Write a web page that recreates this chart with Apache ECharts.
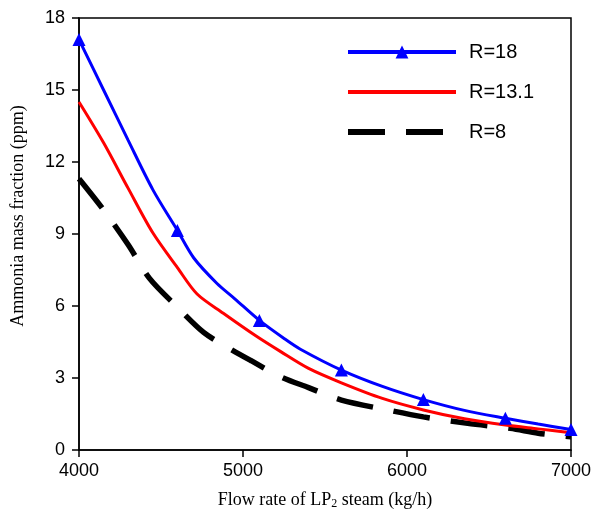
<!DOCTYPE html>
<html><head><meta charset="utf-8">
<script src="https://cdn.jsdelivr.net/npm/echarts@6/dist/echarts.min.js"></script>
<style>html,body{margin:0;padding:0;background:#fff}#c{width:595px;height:520px}</style>
</head><body><div id="c"></div>
<script>
const seriesNames = ['R=18', 'R=13.1', 'R=8'];
const xTicks = [4000, 5000, 6000, 7000];
const yTicks = [0, 3, 6, 9, 12, 15, 18];

const xBlue = [4000, 4150, 4300, 4450, 4600, 4700, 4840, 4950, 5100, 5250, 5350, 5600, 5850, 6100, 6350, 6600, 6800, 7000];
const yBlue = [17.1, 15.0, 12.9, 10.85, 9.15, 8.0, 6.95, 6.3, 5.4, 4.65, 4.2, 3.33, 2.65, 2.1, 1.65, 1.32, 1.08, 0.85];
const blueMarkerX = [4000, 4600, 5100, 5600, 6100, 6600, 7000];

const xRed = [4000, 4150, 4300, 4450, 4600, 4720, 4880, 5080, 5230, 5400, 5600, 5850, 6100, 6350, 6600, 6800, 7000];
const yRed = [14.5, 12.8, 10.9, 9.05, 7.6, 6.5, 5.7, 4.75, 4.1, 3.4, 2.8, 2.15, 1.67, 1.3, 1.04, 0.88, 0.72];

const xBlack = [4000, 4150, 4300, 4430, 4600, 4760, 4900, 5050, 5230, 5400, 5600, 5880, 6100, 6370, 6630, 6800, 7000];
const yBlack = [11.3, 10.0, 8.55, 7.15, 5.95, 4.9, 4.3, 3.72, 3.05, 2.6, 2.08, 1.67, 1.38, 1.11, 0.9, 0.7, 0.55];

const chart = echarts.init(document.getElementById('c'), null, {renderer: 'canvas'});
const sans = 'Liberation Sans, Arial, sans-serif';
const serif = 'Liberation Serif, Times New Roman, serif';

chart.setOption({
  animation: false,
  backgroundColor: '#fff',
  grid: {left: 79, right: 24, top: 18, bottom: 70, show: true, borderColor: '#000', borderWidth: 1.5, backgroundColor: 'transparent'},
  legend: {
    orient: 'vertical', left: 340, top: 37, itemWidth: 108, itemHeight: 16, itemGap: 20,
    textStyle: {fontFamily: sans, fontSize: 20, color: '#000', padding: [0, 0, 0, 8]},
    data: [
      {name: seriesNames[0], lineStyle: {width: 4}},
      {name: seriesNames[1], itemStyle: {opacity: 0}, lineStyle: {width: 4}},
      {name: seriesNames[2], itemStyle: {opacity: 0}, lineStyle: {width: 6}}
    ]
  },
  xAxis: {
    type: 'value', min: xTicks[0], max: xTicks[xTicks.length - 1], interval: 1000,
    name: 'Flow rate of LP{sub|2} steam (kg/h)', nameLocation: 'middle', nameGap: 40,
    nameTextStyle: {fontFamily: serif, fontSize: 18, color: '#000', rich: {sub: {fontFamily: serif, fontSize: 12, verticalAlign: 'bottom', padding: [8, 0, 0, 0]}}},
    axisLine: {lineStyle: {color: '#000', width: 1.5}},
    axisTick: {inside: false, length: 7, lineStyle: {color: '#000', width: 1.5}},
    axisLabel: {fontFamily: sans, fontSize: 18, color: '#000', margin: 12, formatter: v => String(v)},
    splitLine: {show: false}
  },
  yAxis: {
    type: 'value', min: yTicks[0], max: yTicks[yTicks.length - 1], interval: 3,
    name: 'Ammonia mass fraction (ppm)', nameLocation: 'middle', nameGap: 52,
    nameTextStyle: {fontFamily: serif, fontSize: 18, color: '#000', padding: [0, 0, 0, 36]},
    axisLine: {lineStyle: {color: '#000', width: 1.5}},
    axisTick: {inside: false, length: 7, lineStyle: {color: '#000', width: 1.5}},
    axisLabel: {fontFamily: sans, fontSize: 18, color: '#000', margin: 14},
    splitLine: {show: false}
  },
  series: [
    {
      name: seriesNames[0], type: 'line', smooth: 0.3, clip: false,
      symbol: 'triangle', symbolSize: 13, showSymbol: true,
      lineStyle: {color: '#0000ff', width: 3},
      itemStyle: {color: '#0000ff'},
      data: xBlue.map((x, i) => ({value: [x, yBlue[i]], symbol: blueMarkerX.includes(x) ? 'triangle' : 'none'})),
      z: 3
    },
    {
      name: seriesNames[1], type: 'line', smooth: 0.3, clip: false,
      symbol: 'none', showSymbol: false,
      lineStyle: {color: '#ff0000', width: 3},
      itemStyle: {color: '#ff0000'},
      data: xRed.map((x, i) => [x, yRed[i]]),
      z: 2
    },
    {
      name: seriesNames[2], type: 'line', smooth: 0.3, clip: false,
      symbol: 'none', showSymbol: false,
      lineStyle: {color: '#000', width: 5.5, type: [37, 21], cap: 'butt'},
      itemStyle: {color: '#000'},
      data: xBlack.map((x, i) => [x, yBlack[i]]),
      z: 1
    }
  ]
});
</script></body></html>
